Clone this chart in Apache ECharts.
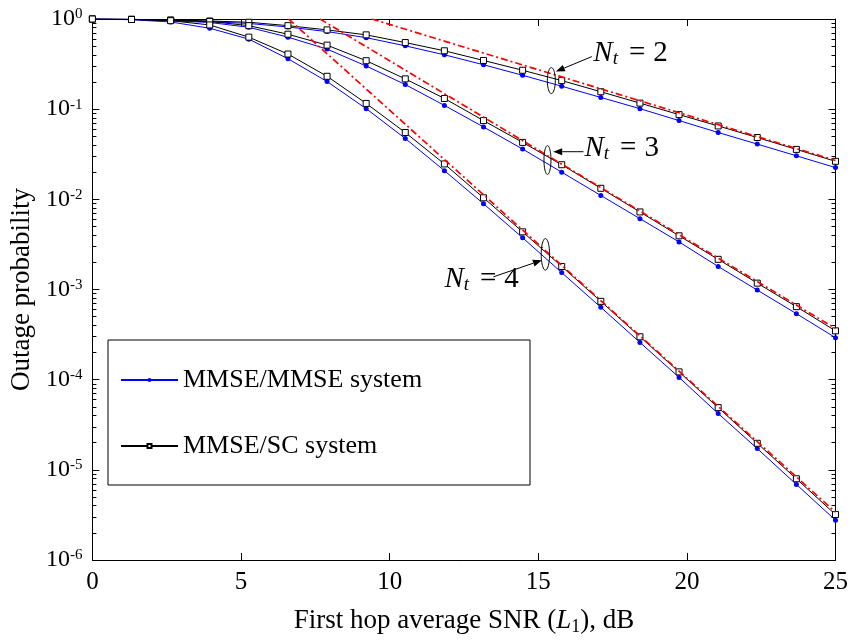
<!DOCTYPE html>
<html>
<head>
<meta charset="utf-8">
<script src="https://cdn.jsdelivr.net/npm/echarts@6/dist/echarts.min.js"></script>
<style>
  html, body { margin: 0; padding: 0; background: #fff; }
  #chart { width: 851px; height: 641px; }
</style>
</head>
<body>
<div id="chart"></div>
<script>
const snr = [0, 1.316, 2.632, 3.947, 5.263, 6.579, 7.895, 9.211, 10.526, 11.842,
  13.158, 14.474, 15.789, 17.105, 18.421, 19.737, 21.053, 22.368, 23.684, 25];

// MMSE/MMSE system (blue)
const mmseNt2 = [1, 0.992, 0.968, 0.934, 0.892, 0.816, 0.725, 0.621, 0.504, 0.401,
  0.311, 0.2374, 0.1797, 0.1349, 0.1013, 0.0747, 0.0551, 0.041, 0.0304, 0.0225];
const mmseNt3 = [1, 0.987, 0.958, 0.915, 0.81, 0.629, 0.4637, 0.3013, 0.1875, 0.1101,
  0.0635, 0.0361, 0.02, 0.01104, 0.00611, 0.00337, 0.0018, 0.000985, 0.00054, 0.000292];
const mmseNt4 = [1, 0.982, 0.927, 0.79, 0.5977, 0.3627, 0.2024, 0.1013, 0.0473, 0.0208,
  0.00894, 0.00375, 0.00154, 0.000635, 0.000259, 0.000106, 4.21e-5, 1.72e-5, 6.89e-6, 2.76e-6];

// MMSE/SC system (black)
const scNt2 = [1, 0.992, 0.975, 0.95, 0.92, 0.844, 0.757, 0.667, 0.548, 0.444,
  0.347, 0.27, 0.2075, 0.156, 0.1167, 0.087, 0.0651, 0.0485, 0.0358, 0.0264];
const scNt3 = [1, 0.992, 0.968, 0.939, 0.844, 0.678, 0.513, 0.3446, 0.2167, 0.1315,
  0.0747, 0.0428, 0.0242, 0.01326, 0.00725, 0.00394, 0.00216, 0.001176, 0.000645, 0.000348];
const scNt4 = [1, 0.987, 0.958, 0.859, 0.629, 0.4087, 0.2315, 0.1158, 0.0551, 0.0247,
  0.0104, 0.00436, 0.0018, 0.000739, 0.000299, 0.000122, 4.9e-5, 1.97e-5, 7.96e-6, 3.19e-6];

// high-SNR asymptotes (red dash-dot): start where they leave the top edge, end at 25 dB
const asymStartSnr = [9.40, 7.66, 6.60];
const asymEndVal = [0.027, 3.69e-4, 3.39e-6];

const majorTicks = [1e-6, 1e-5, 1e-4, 1e-3, 1e-2, 1e-1, 1];
const minorTicks = [];
majorTicks.slice(0, -1).forEach(d => {
  [2, 3, 4, 5, 6, 7, 8, 9].forEach(m => minorTicks.push(+(d * m).toPrecision(3)));
});

const serif = "'Liberation Serif', 'Times New Roman', serif";

const chart = echarts.init(document.getElementById('chart'));

const pairs = ys => snr.map((x, i) => [x, ys[i]]);

function blue(ys) {
  return {
    name: 'MMSE/MMSE system', type: 'line', data: pairs(ys),
    symbol: 'circle', symbolSize: 5,
    lineStyle: { color: '#0000ff', width: 1 },
    itemStyle: { color: '#0000ff' }, z: 2
  };
}
function black(ys) {
  return {
    name: 'MMSE/SC system', type: 'line', data: pairs(ys),
    symbol: 'rect', symbolSize: 6,
    lineStyle: { color: '#000', width: 1 },
    itemStyle: { color: '#fff', borderColor: '#000', borderWidth: 1 }, z: 3
  };
}
function asym(i) {
  return {
    name: 'asym' + i, type: 'line', data: [[asymStartSnr[i], 1], [25, asymEndVal[i]]],
    symbol: 'none', lineStyle: { color: '#ff0000', width: 1.7, type: [7, 3, 2, 3] }, z: 4
  };
}

const yBase = {
  type: 'log', logBase: 10, min: 1e-6, max: 1,
  splitLine: { show: false }
};

chart.setOption({
  animation: false,
  backgroundColor: '#fff',
  grid: { left: 92, right: 15, top: 19, bottom: 77 },
  legend: {
    data: ['MMSE/MMSE system', 'MMSE/SC system'],
    orient: 'vertical', left: 108, top: 340,
    padding: [27, 27, 26, 12], itemGap: 40,
    itemWidth: 57, itemHeight: 5,
    backgroundColor: '#fff', borderColor: '#000', borderWidth: 1, borderRadius: 0,
    textStyle: { fontFamily: serif, fontSize: 26, color: '#000', width: 320, lineHeight: 26 }
  },
  xAxis: [
    {
      type: 'value', min: 0, max: 25, interval: 5, position: 'bottom',
      axisLine: { lineStyle: { color: '#000', width: 1 } },
      axisTick: { inside: true, length: 7, lineStyle: { color: '#000' } },
      axisLabel: { fontFamily: serif, fontSize: 25, color: '#000', margin: 10 },
      splitLine: { show: false },
      name: '{a|First hop average SNR (}{i|L}{s|1}{a|), dB}',
      nameLocation: 'middle', nameGap: 46,
      nameTextStyle: {
        rich: {
          a: { fontFamily: serif, fontSize: 27, color: '#000', lineHeight: 30 },
          i: { fontFamily: serif, fontSize: 27, fontStyle: 'italic', color: '#000', lineHeight: 30 },
          s: { fontFamily: serif, fontSize: 18, color: '#000', verticalAlign: 'bottom', lineHeight: 18 }
        }
      }
    },
    {
      type: 'value', min: 0, max: 25, interval: 5, position: 'top',
      axisLine: { lineStyle: { color: '#000', width: 1 } },
      axisTick: { inside: true, length: 7, lineStyle: { color: '#000' } },
      axisLabel: { show: false }, splitLine: { show: false }
    }
  ],
  yAxis: [
    Object.assign({}, yBase, {
      position: 'left',
      axisLine: { show: true, lineStyle: { color: '#000', width: 1 } },
      axisTick: { inside: true, length: 7, customValues: majorTicks, lineStyle: { color: '#000' } },
      axisLabel: {
        customValues: majorTicks, margin: 10,
        formatter: v => '{b|10}{s|' + Math.round(Math.log10(v)) + '}',
        rich: {
          b: { fontFamily: serif, fontSize: 24, color: '#000', lineHeight: 24 },
          s: { fontFamily: serif, fontSize: 15, color: '#000', verticalAlign: 'top', lineHeight: 15 }
        }
      },
      name: 'Outage probability', nameLocation: 'middle', nameGap: 54,
      nameTextStyle: { fontFamily: serif, fontSize: 27, color: '#000' }
    }),
    Object.assign({}, yBase, {
      position: 'left',
      axisLine: { show: false },
      axisTick: { inside: true, length: 4, customValues: minorTicks, lineStyle: { color: '#000' } },
      axisLabel: { show: false }
    }),
    Object.assign({}, yBase, {
      position: 'right',
      axisLine: { show: true, lineStyle: { color: '#000', width: 1 } },
      axisTick: { inside: true, length: 7, customValues: majorTicks, lineStyle: { color: '#000' } },
      axisLabel: { show: false }
    }),
    Object.assign({}, yBase, {
      position: 'right',
      axisLine: { show: false },
      axisTick: { inside: true, length: 4, customValues: minorTicks, lineStyle: { color: '#000' } },
      axisLabel: { show: false }
    })
  ],
  series: [
    blue(mmseNt2), blue(mmseNt3), blue(mmseNt4),
    black(scNt2), black(scNt3), black(scNt4),
    asym(0), asym(1), asym(2)
  ]
});

// N_t annotations: ellipse around the curve pair, arrow and label (offsets in px from the ellipse centre)
const notes = [
  { nt: 2, at: [15.44, 0.2075], rx: 4, ry: 13, tail: [40.5, -24], head: [4.5, -9], label: [42, -42] },
  { nt: 3, at: [15.31, 0.0273], rx: 3.5, ry: 14.5, tail: [36, -8.3], head: [5.7, -8.3], label: [37, -27] },
  { nt: 4, at: [15.24, 0.002455], rx: 4.2, ry: 15.8, tail: [-52, 22.5], head: [-3.5, 5.9], label: [-101, 10] }
];

const graphics = [];
notes.forEach(n => {
  const c = chart.convertToPixel({ xAxisIndex: 0, yAxisIndex: 0 }, n.at);
  const ell = [];
  for (let k = 0; k < 48; k++) {
    const a = k / 48 * Math.PI * 2;
    ell.push([c[0] + n.rx * Math.cos(a), c[1] + n.ry * Math.sin(a)]);
  }
  graphics.push({ type: 'polygon', shape: { points: ell }, style: { fill: 'none', stroke: '#000', lineWidth: 1 }, z: 10 });
  const t = [c[0] + n.tail[0], c[1] + n.tail[1]];
  const h = [c[0] + n.head[0], c[1] + n.head[1]];
  const dx = h[0] - t[0], dy = h[1] - t[1];
  const len = Math.hypot(dx, dy), ux = dx / len, uy = dy / len;
  const back = [h[0] - ux * 9, h[1] - uy * 9];
  graphics.push({ type: 'line', shape: { x1: t[0], y1: t[1], x2: back[0], y2: back[1] }, style: { stroke: '#000', lineWidth: 1 }, z: 10 });
  graphics.push({
    type: 'polygon',
    shape: { points: [h, [back[0] - uy * 3.5, back[1] + ux * 3.5], [back[0] + uy * 3.5, back[1] - ux * 3.5]] },
    style: { fill: '#000' }, z: 10
  });
  graphics.push({
    type: 'text', x: c[0] + n.label[0], y: c[1] + n.label[1], z: 11,
    style: {
      text: '{n|N}{t|t}{e|=}{v|' + n.nt + '}',
      verticalAlign: 'top', align: 'left',
      rich: {
        n: { fontFamily: serif, fontStyle: 'italic', fontSize: 29, fill: '#000', lineHeight: 30 },
        t: { fontFamily: serif, fontStyle: 'italic', fontSize: 19, fill: '#000', verticalAlign: 'bottom', lineHeight: 19 },
        e: { fontFamily: serif, fontSize: 29, fill: '#000', lineHeight: 30, padding: [0, 8, 0, 11] },
        v: { fontFamily: serif, fontSize: 29, fill: '#000', lineHeight: 30 }
      }
    }
  });
});
chart.setOption({ graphic: graphics });
</script>
</body>
</html>
